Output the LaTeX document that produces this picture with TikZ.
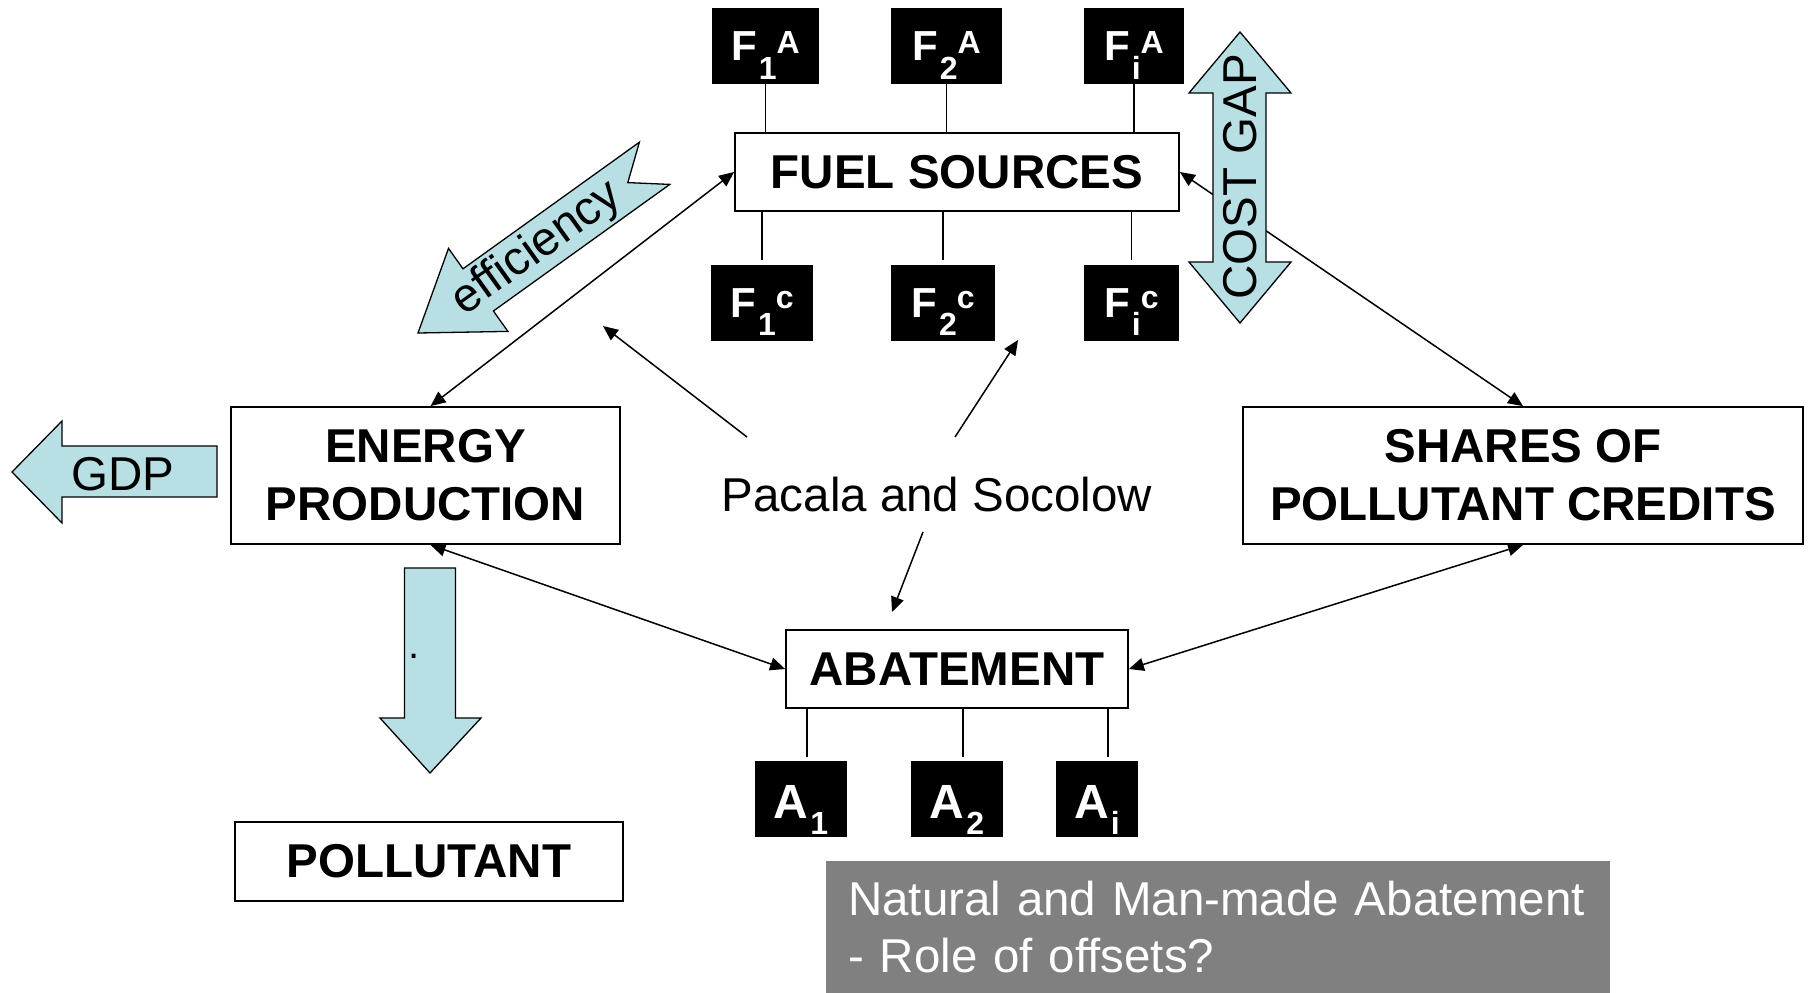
\documentclass[tikz,border=0pt]{standalone}
\usepackage{fontspec}
\setmainfont{Liberation Sans}
\usetikzlibrary{arrows.meta,calc}
\definecolor{lblue}{RGB}{184,224,228}
\definecolor{gboxcol}{RGB}{128,128,128}
\newcommand{\lsub}[2]{\kern2pt\raisebox{#1}{\fontsize{32}{34}\selectfont #2}}
\newcommand{\lsup}[2]{\raisebox{#1}{\fontsize{32}{34}\selectfont #2}}
\begin{document}
\begin{tikzpicture}[x=1pt,y=-1pt,
  box/.style={draw, line width=1.8pt, fill=white, inner sep=0pt, font=\bfseries\fontsize{47.5}{58}\selectfont, align=center},
  fbox/.style={fill=black, text=white, inner sep=0pt, minimum height=76pt, text height=28pt, text depth=0pt, font=\bfseries\fontsize{42}{44}\selectfont},
  abox/.style={fill=black, text=white, inner sep=0pt, minimum height=76pt, text height=38pt, text depth=0pt, font=\bfseries\fontsize{48}{50}\selectfont},
  link/.style={line width=1.3pt},
  biarrow/.style={line width=1.5pt, {Triangle[length=15pt,width=13pt]}-{Triangle[length=15pt,width=13pt]}},
  onearrow/.style={line width=1.5pt, -{Triangle[length=15pt,width=13pt]}},
  blockarrow/.style={fill=lblue, draw=black, line width=1.3pt, line join=miter},
  plain/.style={font=\fontsize{47.5}{58}\selectfont, inner sep=0pt},
]
\useasboundingbox (0,0) rectangle (1810,993);

% main boxes
\node[box, minimum width=444pt, minimum height=78pt] (fuel) at (957,172) {FUEL SOURCES};
\node[box, minimum width=389pt, minimum height=137pt] (energy) at (425.5,475.5) {ENERGY\\PRODUCTION};
\node[box, minimum width=560pt, minimum height=137pt] (shares) at (1523,475.5) {SHARES OF\\POLLUTANT CREDITS};
\node[box, minimum width=342pt, minimum height=78pt] (abate) at (957,669) {ABATEMENT};
\node[box, minimum width=388pt, minimum height=79pt] (poll) at (429,861.5) {POLLUTANT};

% fuel source boxes
\node[fbox, minimum width=107pt] (f1a) at (765.5,46) {F\lsub{-19pt}{1}\lsup{7pt}{A}};
\node[fbox, minimum width=111pt] (f2a) at (946.5,46) {F\lsub{-19pt}{2}\lsup{7pt}{A}};
\node[fbox, minimum width=100pt] (fia) at (1134,46) {F\lsub{-19pt}{i}\lsup{7pt}{A}};
\node[fbox, minimum width=102pt] (f1c) at (762,303) {F\lsub{-18pt}{1}\lsup{9pt}{c}};
\node[fbox, minimum width=104pt] (f2c) at (943,303) {F\lsub{-18pt}{2}\lsup{9pt}{c}};
\node[fbox, minimum width=95pt] (fic) at (1131.5,303) {F\lsub{-18pt}{i}\lsup{9pt}{c}};

% abatement boxes
\node[abox, minimum width=92pt] (a1) at (801,799) {A\lsub{-16pt}{1}};
\node[abox, minimum width=92pt] (a2) at (957,799) {A\lsub{-16pt}{2}};
\node[abox, minimum width=82pt] (ai) at (1097,799) {A\lsub{-16pt}{i}};

% links
\draw[link] (f1a.south) -- (f1a.south |- fuel.north);
\draw[link] (f2a.south) -- (f2a.south |- fuel.north);
\draw[link] (fia.south) -- (fia.south |- fuel.north);
\draw[link] (fuel.south -| f1c) -- ($(f1c.north)+(0,-5)$);
\draw[link] (fuel.south -| f2c) -- ($(f2c.north)+(0,-5)$);
\draw[link] (fuel.south -| fic) -- ($(fic.north)+(0,-5)$);
\draw[link] ($(a1.north |- abate.south)+(6,0)$) -- ($(a1.north)+(6,-4)$);
\draw[link] ($(a2.north |- abate.south)+(6,0)$) -- ($(a2.north)+(6,-4)$);
\draw[link] ($(ai.north |- abate.south)+(11,0)$) -- ($(ai.north)+(11,-4)$);

% connectors
\draw[biarrow] ($(energy.north)+(5,0)$) -- (fuel.west);
\draw[biarrow] (fuel.east) -- (shares.north);
\draw[biarrow] ($(energy.south)+(5,0)$) -- (abate.west);
\draw[biarrow] (shares.south) -- (abate.east);

% Pacala and Socolow
\node[plain] (pacala) at (937,495) {Pacala and Socolow};
\coordinate (p1s) at (747,437);
\coordinate (p1e) at (603,326);
\coordinate (p2s) at (955,437);
\coordinate (p2e) at (1018,340);
\coordinate (p3s) at (923,532);
\coordinate (p3e) at (892,612);
\draw[onearrow] (p1s) -- (p1e);
\draw[onearrow] (p2s) -- (p2e);
\draw[onearrow] (p3s) -- (p3e);

% block arrows
\filldraw[blockarrow] (12,472) -- (62,421) -- (62,446) -- (217,446) -- (217,497) -- (62,497) -- (62,523) -- cycle;
\node[plain] (gdp) at (123,474) {GDP};

\filldraw[blockarrow] (404.5,568) -- (455.5,568) -- (455.5,718) -- (481,718) -- (430,773) -- (380,718) -- (404.5,718) -- cycle;
\node[inner sep=0pt, font=\fontsize{40}{40}\selectfont] (dot) at (414,656) {.};

\filldraw[blockarrow] (1240,32) -- (1291,93) -- (1266,93) -- (1266,262) -- (1291,262) -- (1240,323) -- (1189,262) -- (1213,262) -- (1213,93) -- (1189,93) -- cycle;
\node[plain, rotate=90] (costgap) at (1240,177) {COST GAP};

\filldraw[blockarrow] (418,333) -- (448.5,248.4) -- (463,268.8) -- (639.4,142.2) -- (627.8,182.6) -- (669.8,184.4) -- (493.4,311) -- (507.9,331.4) -- cycle;
\node[plain, rotate=35.6] (eff) at (537,249) {efficiency};

% note box
\node[anchor=north west, fill=gboxcol, text=white, minimum width=784pt, minimum height=132pt, inner xsep=22pt, inner ysep=0pt, text width=740pt, align=left, font=\fontsize{47.5}{57}\selectfont] (note) at (826,861) {Natural and Man-made Abatement\\- Role of offsets?};
\end{tikzpicture}
\end{document}
